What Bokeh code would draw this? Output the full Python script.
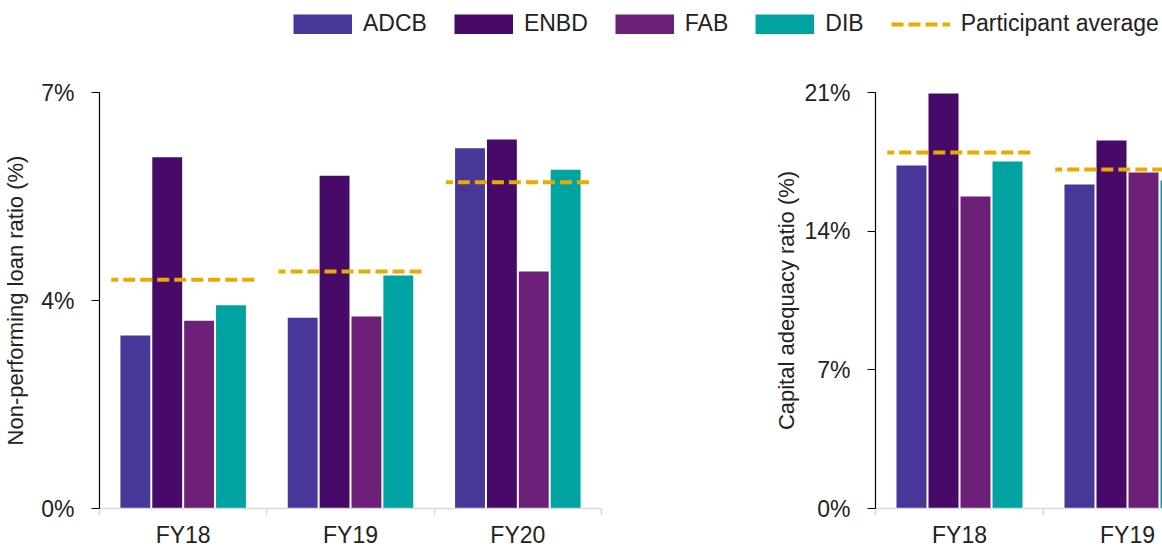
import numpy as np
from bokeh.plotting import figure
from bokeh.models import Range1d, FixedTicker, Legend, LegendItem
from bokeh.layouts import column, row
from bokeh.embed import file_html
from bokeh.resources import INLINE

# ---------------- data ----------------
banks = ["ADCB", "ENBD", "FAB", "DIB"]

npl_categories = ["FY18", "FY19", "FY20"]
npl_adcb = [2.91, 3.21, 6.06]
npl_enbd = [5.91, 5.60, 6.21]
npl_fab = [3.16, 3.23, 3.99]
npl_dib = [3.42, 3.92, 5.70]
npl_avg = [3.85, 3.99, 5.49]
npl_ticks = [0, 3.5, 7]
npl_tick_labels = ["0%", "4%", "7%"]

car_categories = ["FY18", "FY19"]
car_adcb = [17.31, 16.36]
car_enbd = [20.95, 18.58]
car_fab = [15.75, 16.96]
car_dib = [17.52, 16.56]
car_avg = [17.97, 17.11]
car_ticks = [0, 7, 14, 21]
car_tick_labels = ["0%", "7%", "14%", "21%"]

# ---------------- style ----------------
COLORS = {"ADCB": "#483698", "ENBD": "#470A68", "FAB": "#6D2077", "DIB": "#00A3A1"}
AVG_COLOR = "#EAAA00"
FONT = "Liberation Sans"
TEXT = "#222222"
BAR_W = 0.1786
BAR_PITCH = 0.1905


def panel(cats, series, avg, ticks, tick_labels, ymax, ylabel, width,
          border_left, border_right, xmax, label_standoff):
    p = figure(width=width, height=495, output_backend="svg", toolbar_location=None,
               x_range=Range1d(0, xmax), y_range=Range1d(0, ymax),
               min_border_left=border_left, min_border_right=border_right,
               min_border_top=37, min_border_bottom=42)
    centers = np.arange(len(cats)) + 0.5
    n = len(series)
    for i, (name, vals) in enumerate(series):
        p.vbar(x=centers + (i - (n - 1) / 2) * BAR_PITCH, top=vals, width=BAR_W,
               fill_color=COLORS[name], line_color=None)
    p.segment(x0=centers - 0.43, x1=centers + 0.43, y0=avg, y1=avg,
              line_color=AVG_COLOR, line_width=4, line_dash="12 5", line_dash_offset=5)

    p.grid.visible = False
    p.outline_line_color = None

    xa = p.xaxis[0]
    xa.ticker = FixedTicker(ticks=list(centers), minor_ticks=list(range(len(cats) + 1)))
    xa.major_label_overrides = {float(c): lab for c, lab in zip(centers, cats)}
    xa.axis_line_color = "#D9D9D9"
    xa.axis_line_width = 1.5
    xa.major_tick_line_color = None
    xa.major_tick_out = 0
    xa.major_tick_in = 0
    xa.minor_tick_line_color = "#D9D9D9"
    xa.minor_tick_line_width = 1.5
    xa.minor_tick_out = 7
    xa.minor_tick_in = 0
    xa.major_label_standoff = 6
    xa.major_label_text_font = FONT
    xa.major_label_text_font_size = "23px"
    xa.major_label_text_color = TEXT

    ya = p.yaxis[0]
    ya.ticker = FixedTicker(ticks=ticks, minor_ticks=[])
    ya.major_label_overrides = {float(t): lab for t, lab in zip(ticks, tick_labels)}
    ya.axis_line_color = "#000000"
    ya.axis_line_width = 1.2
    ya.major_tick_line_color = "#000000"
    ya.major_tick_line_width = 1.2
    ya.major_tick_out = 8
    ya.major_tick_in = 0
    ya.minor_tick_line_color = None
    ya.major_label_standoff = 17
    ya.major_label_text_font = FONT
    ya.major_label_text_font_size = "23px"
    ya.major_label_text_color = TEXT
    ya.axis_label = ylabel
    ya.axis_label_text_font = FONT
    ya.axis_label_text_font_size = "22px"
    ya.axis_label_text_font_style = "normal"
    ya.axis_label_text_color = TEXT
    ya.axis_label_standoff = label_standoff
    return p


left = panel(npl_categories,
             [("ADCB", npl_adcb), ("ENBD", npl_enbd), ("FAB", npl_fab), ("DIB", npl_dib)],
             npl_avg, npl_ticks, npl_tick_labels, 7, "Non-performing loan ratio (%)",
             620, 97, 19, 3, 10)

right = panel(car_categories,
              [("ADCB", car_adcb), ("ENBD", car_enbd), ("FAB", car_fab), ("DIB", car_dib)],
              car_avg, car_ticks, car_tick_labels, 21, "Capital adequacy ratio (%)",
              542, 255, 0, 287 / 168, 2)

# ---------------- legend strip ----------------
lf = figure(width=1162, height=55, output_backend="svg", toolbar_location=None,
            x_range=Range1d(0, 1), y_range=Range1d(0, 1),
            x_axis_location=None, y_axis_location=None, min_border=0)
lf.grid.visible = False
lf.outline_line_color = None
items = []
for name in banks:
    r = lf.line(x=[-5, -4], y=[-5, -5], line_color=COLORS[name], line_width=20)
    items.append(LegendItem(label=name, renderers=[r]))
r = lf.line(x=[-5, -4], y=[-5, -5], line_color=AVG_COLOR, line_width=4, line_dash="12 5")
items.append(LegendItem(label="Participant average", renderers=[r]))
leg = Legend(items=items, orientation="horizontal", location=(293, 18),
             glyph_width=59, glyph_height=20, label_standoff=11, spacing=27,
             padding=0, margin=0, border_line_color=None, background_fill_alpha=0,
             label_text_font=FONT, label_text_font_size="23px", label_text_color=TEXT)
lf.add_layout(leg, "center")

layout = column(lf, row(left, right))
open("out.html", "w").write(file_html(layout, INLINE))
